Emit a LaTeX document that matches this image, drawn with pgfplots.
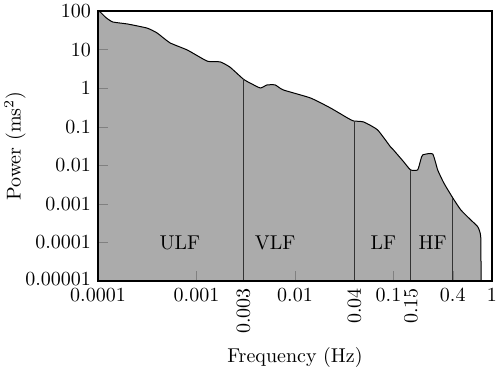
\documentclass[border=0pt]{standalone}
\usepackage{pgfplots}
\pgfplotsset{compat=1.18}
\definecolor{fillgray}{gray}{0.67}
\pgfplotstableread{
x y
1.0e-4 100
1.05e-4 95
1.2e-4 68
1.41e-4 52
2.0e-4 46
3.16e-4 36
3.98e-4 27
5.37e-4 15
8.1e-4 9.7
1.29e-3 5.0
1.74e-3 4.8
2.19e-3 3.5
3.0e-3 1.7
3.5e-3 1.36
4.45e-3 1.01
5.2e-3 1.21
6.3e-3 1.21
7.6e-3 0.90
0.01435 0.557
0.0229 0.307
0.0341 0.169
0.0393 0.141
0.0497 0.133
0.0689 0.083
0.0933 0.030
0.1 0.025
0.127 0.0123
0.149 0.0076
0.176 0.0076
0.189 0.0138
0.198 0.0186
0.25 0.0197
0.281 0.0076
0.324 0.0035
0.40 0.00143
0.482 0.0007
0.608 0.000385
0.718 0.000254
0.769 0.00014
0.775 0.00001
}\curve
\begin{document}
\begin{tikzpicture}
\path[use as bounding box] (-49pt,-45pt) rectangle (201pt,140.5pt);
\begin{axis}[
  xmode=log, ymode=log, log origin y=infty,
  scale only axis, width=197pt, height=135pt,
  xmin=1e-4, xmax=1, ymin=1e-5, ymax=100,
  axis on top,
  axis line style={line width=0.6pt},
  tick pos=left, tick align=inside,
  major tick length=5pt, minor tick length=0pt,
  minor xtick={}, minor ytick={},
  xtick={1e-4,1e-3,1e-2,1e-1,0.4,1},
  xticklabels={0.0001,0.001,0.01,0.1\hspace*{5pt},0.4,1},
  extra x ticks={0.003,0.04,0.15},
  extra x tick labels={0.003,0.04,0.15},
  extra x tick style={major tick length=0pt, tick label style={rotate=90, anchor=east}},
  ytick={1e-5,1e-4,1e-3,1e-2,1e-1,1,10,100},
  yticklabels={\raisebox{2.5pt}{0.00001},0.0001,0.001,0.01,0.1,1,10,100},
  xlabel={Frequency (Hz)},
  ylabel={Power (ms$^2$)},
  xlabel style={at={([yshift=-38pt]axis description cs:0.5,0)}, anchor=center},
  ylabel style={at={([xshift=-41.5pt]axis description cs:0,0.5)}, anchor=center},
]
\addplot[fill=fillgray, draw=none, smooth, tension=0.3] table[x=x,y=y] {\curve} \closedcycle;
\addplot[black, line width=0.5pt, smooth, tension=0.3] table[x=x,y=y] {\curve};
\addplot[black!80, line width=0.5pt] coordinates {(0.003,1e-5) (0.003,1.7)};
\addplot[black!80, line width=0.5pt] coordinates {(0.04,1e-5) (0.04,0.134)};
\addplot[black!80, line width=0.5pt] coordinates {(0.15,1e-5) (0.15,0.0076)};
\addplot[black!80, line width=0.5pt] coordinates {(0.4,1e-5) (0.4,0.00143)};
\node at (axis cs:6.8e-4,1e-4) {ULF};
\node at (axis cs:0.0063,1e-4) {VLF};
\node at (axis cs:0.079,1e-4) {LF};
\node at (axis cs:0.25,1e-4) {HF};
\end{axis}
\end{tikzpicture}
\end{document}
